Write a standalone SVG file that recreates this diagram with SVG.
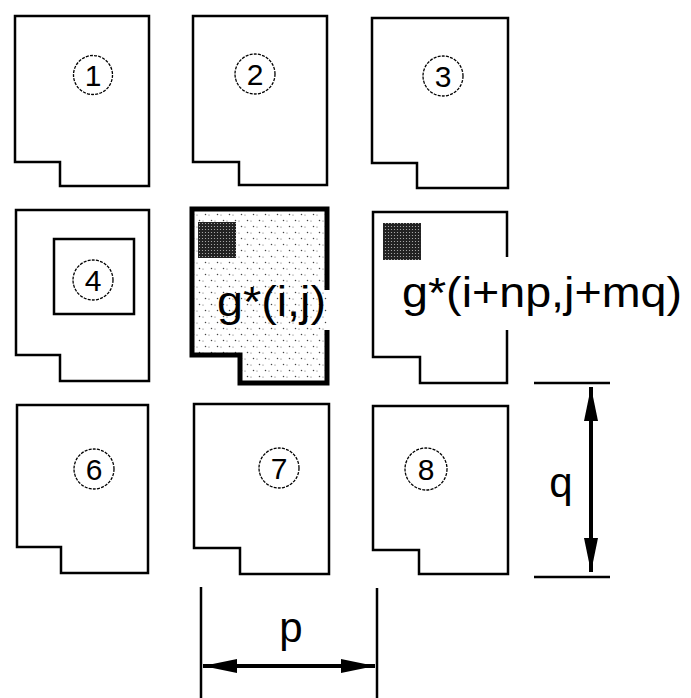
<svg xmlns="http://www.w3.org/2000/svg" width="691" height="698" viewBox="0 0 691 698">
<style>
.tile{fill:#fff;stroke:#000;stroke-width:2.5;stroke-linejoin:miter}
.ring{fill:none;stroke:#000;stroke-width:1.3;stroke-dasharray:3 1.2}
.num{font-family:"Liberation Sans",Arial,sans-serif;font-size:30px;text-anchor:middle;fill:#000}
.lbl{font-family:"Liberation Sans",Arial,sans-serif;font-size:42px;fill:#000}
.dim{stroke:#000;stroke-width:2.5;fill:none}
.arr{stroke:#000;stroke-width:4;fill:none}
.dark{fill:url(#dense);stroke:none}
</style>
<defs>
<pattern id="hatch" width="12" height="12" patternUnits="userSpaceOnUse">
<rect width="12" height="12" fill="#fff"/>
<circle cx="1.5" cy="10.5" r="0.75" fill="#444"/>
<circle cx="7.5" cy="4.5" r="0.75" fill="#444"/>
<circle cx="5" cy="11" r="0.6" fill="#666"/>
<circle cx="11" cy="5" r="0.6" fill="#666"/>
</pattern>
<pattern id="dense" width="3" height="3" patternUnits="userSpaceOnUse">
<rect width="3" height="3" fill="#222"/>
<circle cx="1.5" cy="1.5" r="0.6" fill="#bbb"/>
</pattern>
<marker id="ah" markerWidth="36" markerHeight="18" refX="34" refY="9" orient="auto-start-reverse" markerUnits="userSpaceOnUse">
<path d="M0,2 L34,9 L0,16 Z" fill="#000"/>
</marker>
</defs>

<g id="tile1">
<path class="tile" d="M15,16 H149 V186 H60 V162 H15 Z"/>
<circle class="ring" cx="93" cy="75" r="19.5"/>
<text class="num" x="93" y="86">1</text>
</g>
<g id="tile2">
<path class="tile" d="M193,16 H327 V185 H239 V162 H193 Z"/>
<circle class="ring" cx="255" cy="74" r="20"/>
<text class="num" x="255" y="85">2</text>
</g>
<g id="tile3">
<path class="tile" d="M372,18 H508 V188 H417 V163 H372 Z"/>
<circle class="ring" cx="443" cy="76" r="20"/>
<text class="num" x="443" y="87">3</text>
</g>
<g id="tile4">
<path class="tile" d="M16,210 H149 V381 H60 V355 H16 Z"/>
<rect x="54" y="239" width="80" height="75" fill="#fff" stroke="#000" stroke-width="2.5"/>
<circle class="ring" cx="93" cy="280" r="20"/>
<text class="num" x="93" y="291">4</text>
</g>
<g id="tile5">
<path d="M192,209 H327 V383 H240 V355 H192 Z" fill="url(#hatch)" stroke="none"/>
<path d="M327,330 V383 H240 V355 H192 V209 H327 V290" fill="none" stroke="#000" stroke-width="5"/>
<rect class="dark" x="198" y="222" width="38" height="36"/>
<text class="lbl" x="217" y="316" textLength="109" lengthAdjust="spacingAndGlyphs">g*(i,j)</text>
</g>
<g id="tile6r">
<path d="M373,212 H507 V383 H420 V357 H373 Z" fill="#fff" stroke="none"/>
<path d="M507,330 V383 H420 V357 H373 V212 H507 V257" fill="none" stroke="#000" stroke-width="2.5"/>
<rect class="dark" x="383" y="223" width="38" height="37"/>
<text class="lbl" x="402" y="307" textLength="280" lengthAdjust="spacingAndGlyphs">g*(i+np,j+mq)</text>
</g>
<g id="tile6">
<path class="tile" d="M17,405 H148 V573 H61 V547 H17 Z"/>
<circle class="ring" cx="94" cy="469" r="20"/>
<text class="num" x="94" y="480">6</text>
</g>
<g id="tile7">
<path class="tile" d="M194,404 H329 V574 H240 V548 H194 Z"/>
<circle class="ring" cx="279" cy="468" r="20"/>
<text class="num" x="279" y="479">7</text>
</g>
<g id="tile8">
<path class="tile" d="M373,406 H508 V574 H419 V550 H373 Z"/>
<circle class="ring" cx="426" cy="469" r="21"/>
<text class="num" x="426" y="480">8</text>
</g>

<g id="connectors">
<line class="dim" x1="534" y1="383" x2="610" y2="383"/>
<line class="dim" x1="534" y1="577" x2="610" y2="577"/>
<line class="arr" x1="591" y1="387" x2="591" y2="572" marker-start="url(#ah)" marker-end="url(#ah)"/>
<line class="dim" x1="201" y1="587" x2="201" y2="698"/>
<line class="dim" x1="377" y1="588" x2="377" y2="698"/>
<line class="arr" x1="203" y1="666" x2="375" y2="666" marker-start="url(#ah)" marker-end="url(#ah)"/>
</g>
<text class="lbl" x="561" y="497" text-anchor="middle">q</text>
<text class="lbl" x="291" y="642" text-anchor="middle">p</text>
</svg>
